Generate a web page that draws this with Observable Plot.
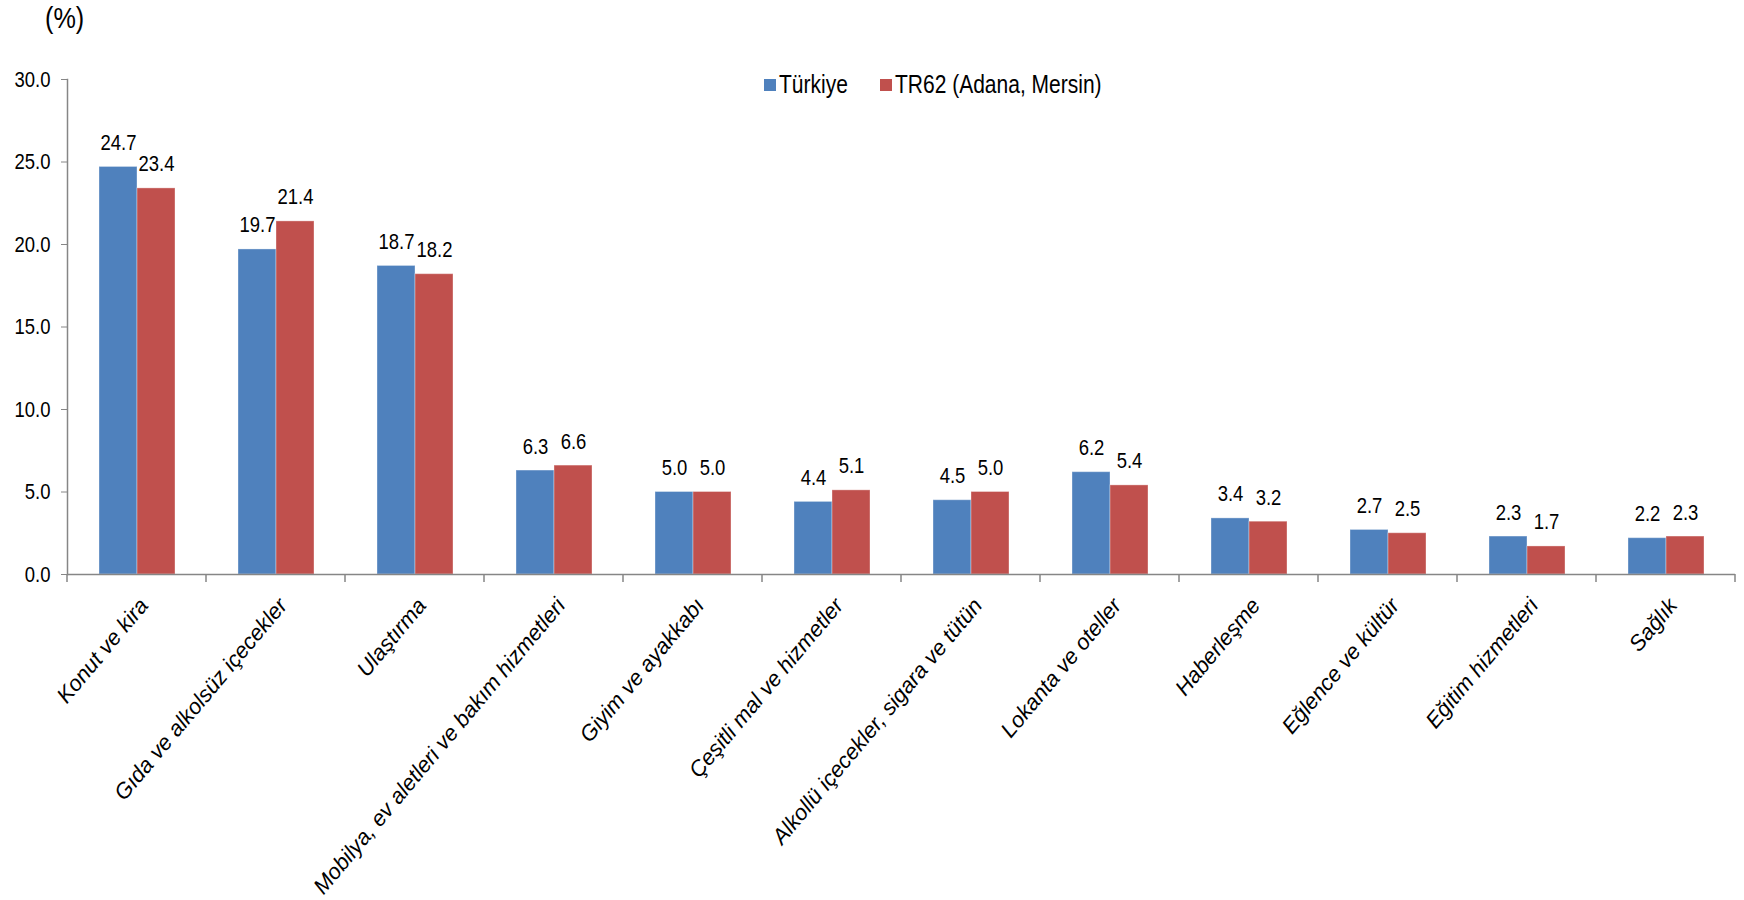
<!DOCTYPE html>
<html><head><meta charset="utf-8">
<script src="https://cdn.jsdelivr.net/npm/d3@7"></script>
<script src="https://cdn.jsdelivr.net/npm/@observablehq/plot@0.6"></script>
<style>body{margin:0;background:#fff} #chart{width:1744px;height:900px}</style>
</head><body><div id="chart"></div>
<script>
const categories = [
  "Konut ve kira",
  "Gıda ve alkolsüz içecekler",
  "Ulaştırma",
  "Mobilya, ev aletleri ve bakım hizmetleri",
  "Giyim ve ayakkabı",
  "Çeşitli mal ve hizmetler",
  "Alkollü içecekler, sigara ve tütün",
  "Lokanta ve oteller",
  "Haberleşme",
  "Eğlence ve kültür",
  "Eğitim hizmetleri",
  "Sağlık"
];
const turkiye = [24.7, 19.7, 18.7, 6.3, 5.0, 4.4, 4.5, 6.2, 3.4, 2.7, 2.3, 2.2];
const tr62    = [23.4, 21.4, 18.2, 6.6, 5.0, 5.1, 5.0, 5.4, 3.2, 2.5, 1.7, 2.3];
const seriesNames = ["Türkiye", "TR62 (Adana, Mersin)"];
const seriesColors = ["#4F81BD", "#C0504D"];
const yTicks = [0, 5, 10, 15, 20, 25, 30];
const unitLabel = "(%)";

const rows = categories.flatMap((c, i) => [
  {category: c, series: seriesNames[0], value: turkiye[i]},
  {category: c, series: seriesNames[1], value: tr62[i]}
]);

const FONT = "'Liberation Sans',Arial,sans-serif";
const AXIS = "#868686";
const SQUEEZE = 0.84; // the reference's text is horizontally condensed

const plot = Plot.plot({
  width: 1744, height: 900,
  marginTop: 79, marginBottom: 326, marginLeft: 65, marginRight: 7,
  style: {fontFamily: FONT, background: "#fff", color: "#000"},
  fx: {domain: categories, padding: 0, axis: null},
  x: {domain: seriesNames, paddingInner: 0, paddingOuter: 0.79, axis: null},
  y: {domain: [0, 30], axis: null},
  color: {domain: seriesNames, range: seriesColors},
  marks: [
    Plot.barY(rows, {fx: "category", x: "series", y: "value", fill: "series",
      stroke: "#fff", strokeOpacity: 0.35, strokeWidth: 1}),
    Plot.ruleY([0], {stroke: AXIS, strokeWidth: 1.5}),
    Plot.frame({anchor: "left", facetAnchor: "left", stroke: AXIS, strokeWidth: 1.5}),
    Plot.axisY({ticks: yTicks, tickFormat: d3.format(".1f"), tickSize: 6, tickPadding: 11,
      fontSize: 22, stroke: AXIS, fill: "#000", facetAnchor: "left", label: null}),
    Plot.text(rows, {fx: "category", x: "series", y: "value",
      text: d => d.value.toFixed(1), dy: -24, lineAnchor: "middle",
      fontSize: 22, fill: "#000"}),
    Plot.text(categories, {fx: d => d, text: d => d, frameAnchor: "bottom",
      rotate: -50, textAnchor: "end", lineAnchor: "middle", dx: 7, dy: 27,
      fontSize: 22, fontStyle: "italic", fill: "#000", className: "cat-labels"})
  ]
});

document.getElementById("chart").appendChild(plot);

const svg = d3.select(plot.tagName.toLowerCase() === "svg" ? plot : plot.querySelector("svg"));

// category boundary ticks, from the fx scale
const fx = plot.scale("fx"), ys = plot.scale("y");
const y0 = ys.apply(0);
const edges = categories.map(c => fx.apply(c)).concat([fx.apply(categories[categories.length - 1]) + fx.bandwidth]);
svg.append("g").selectAll("line").data(edges).join("line")
  .attr("x1", d => d).attr("x2", d => d)
  .attr("y1", y0).attr("y2", y0 + 8)
  .attr("stroke", AXIS).attr("stroke-width", 1.5);

// unit label
svg.append("text").attr("x", 45).attr("y", 28).attr("text-anchor", "start")
  .attr("font-family", FONT).attr("font-size", 30).attr("fill", "#000").text(unitLabel);

// legend
const legend = svg.append("g").attr("font-family", FONT).attr("font-size", 25).attr("text-anchor", "start");
const legendX = [764, 880];
seriesNames.forEach((name, i) => {
  legend.append("rect").attr("x", legendX[i]).attr("y", 79).attr("width", 12).attr("height", 12)
    .attr("fill", seriesColors[i]);
  legend.append("text").attr("x", legendX[i] + 15).attr("y", 93).attr("fill", "#000").text(name);
});

// condense upright texts horizontally, like the reference
svg.selectAll("text").each(function() {
  if (this.closest(".cat-labels")) return;
  const len = this.getComputedTextLength();
  if (len > 0) {
    this.setAttribute("textLength", (len * SQUEEZE).toFixed(2));
    this.setAttribute("lengthAdjust", "spacingAndGlyphs");
  }
});
</script></body></html>
